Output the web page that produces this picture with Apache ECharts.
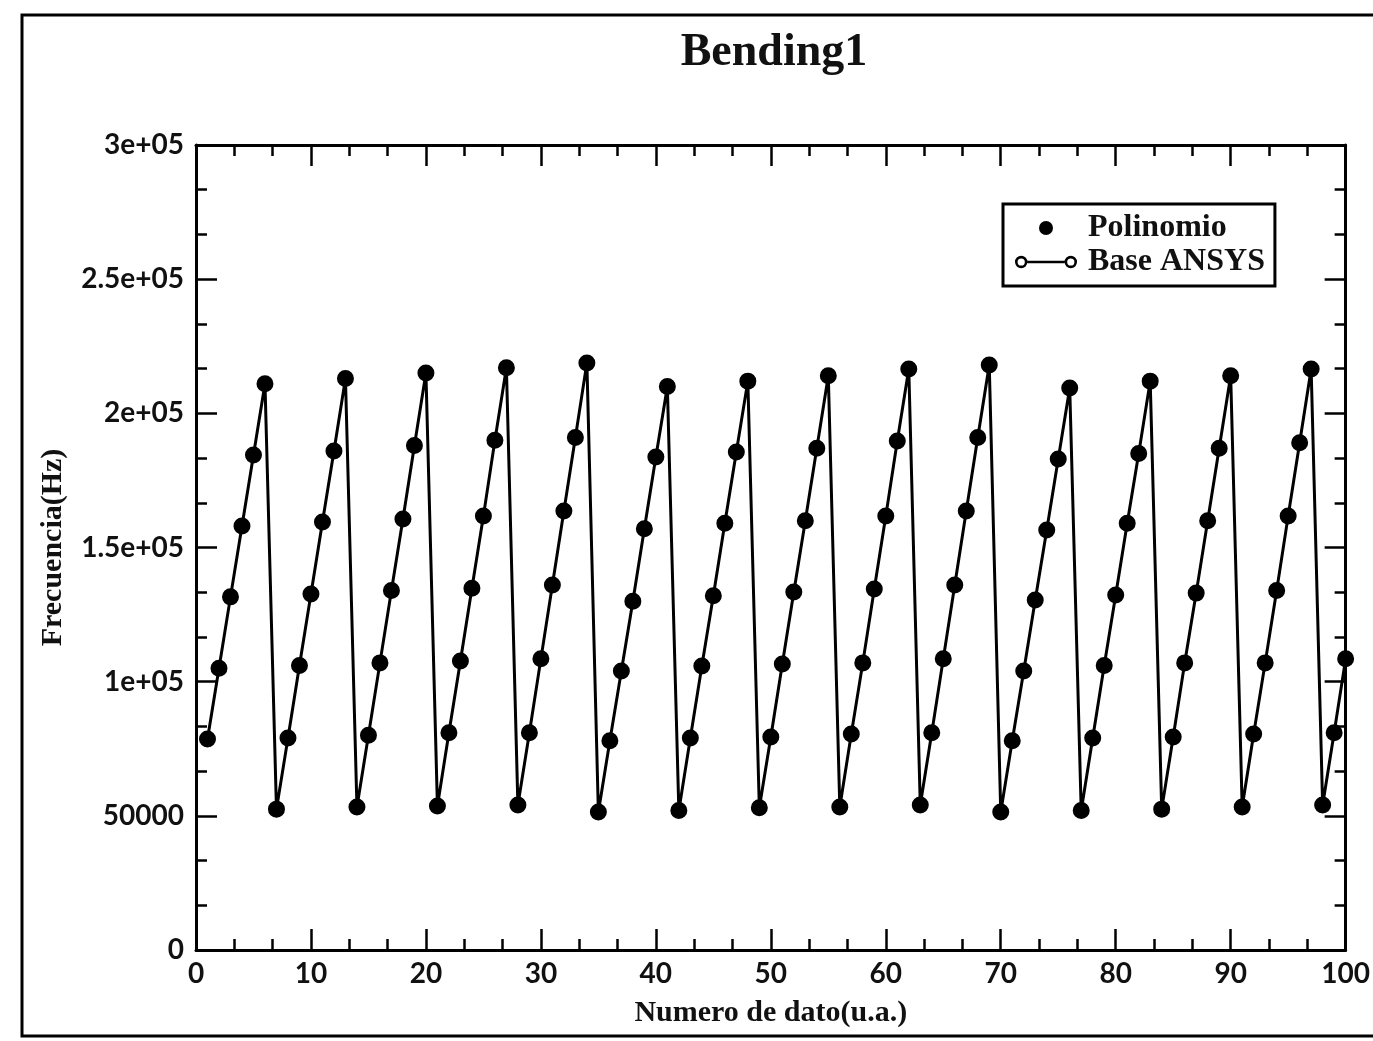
<!DOCTYPE html>
<html>
<head>
<meta charset="utf-8">
<title>Bending1</title>
<script src="https://cdn.jsdelivr.net/npm/echarts@6/dist/echarts.min.js"></script>
<style>
  html, body { margin: 0; padding: 0; background: #fff; }
  #chart { width: 1373px; height: 1041px; }
</style>
</head>
<body>
<div id="chart"></div>
<script>
// Bending mode 1 frequency for each data point (Hz), points numbered 1..100
const frecuencia = [
  78600, 105000, 131600, 158000, 184500, 211000,
  52500, 79000, 106000, 132700, 159500, 186000, 213000,
  53300, 80000, 107000, 134000, 160600, 188000, 215000,
  53700, 81000, 107700, 134800, 161700, 190000, 217000,
  54000, 81000, 108500, 136000, 163600, 191000, 218800,
  51400, 78000, 104000, 130000, 157000, 183700, 210000,
  52000, 79000, 105800, 132000, 159000, 185600, 212000,
  53000, 79400, 106600, 133400, 160000, 187000, 214000,
  53300, 80500, 107000, 134500, 161700, 189700, 216500,
  54000, 81000, 108500, 136000, 163600, 191000, 218000,
  51400, 78000, 104000, 130400, 156500, 183000, 209400,
  52000, 79000, 106000, 132300, 159000, 185000, 212000,
  52500, 79400, 107000, 133000, 160000, 187000, 214000,
  53300, 80500, 107000, 134000, 161700, 189000, 216500,
  54000, 81000, 108500
];
const polinomio = frecuencia.slice();
const baseAnsys = frecuencia.slice();

const xTickLabels = ['0', '10', '20', '30', '40', '50', '60', '70', '80', '90', '100'];
const yTickLabels = ['0', '50000', '1e+05', '1.5e+05', '2e+05', '2.5e+05', '3e+05'];

const toPairs = arr => arr.map((v, i) => [i + 1, v]);

const serif = '"Liberation Serif", "DejaVu Serif", serif';
const sans = 'Lato, "Open Sans", sans-serif';

// legend icon: short line with an open circle at each end
const lineIcon = 'path://M1,7A6,6 0 1,1 13,7A6,6 0 1,1 1,7Z M3.5,7A3.5,3.5 0 1,0 10.5,7A3.5,3.5 0 1,0 3.5,7Z' +
  'M49,7A6,6 0 1,1 61,7A6,6 0 1,1 49,7Z M51.5,7A3.5,3.5 0 1,0 58.5,7A3.5,3.5 0 1,0 51.5,7Z' +
  'M13,5.8L49,5.8L49,8.2L13,8.2Z';

const chart = echarts.init(document.getElementById('chart'), null, { renderer: 'canvas' });

// shared frame/tick styling; every axis keeps to its own side of the grid
const tickCommon = {
  axisLine: { show: true, onZero: false, lineStyle: { color: '#000', width: 3 } },
  axisTick: { show: true, inside: true, length: 21, lineStyle: { color: '#000', width: 2.5 } },
  minorTick: { show: true, splitNumber: 3, length: 11, lineStyle: { color: '#000', width: 2.5 } },
  splitLine: { show: false },
  minorSplitLine: { show: false }
};

chart.setOption({
  animation: false,
  backgroundColor: '#fff',
  title: {
    text: 'Bending1',
    left: 774,
    top: 30,
    padding: 0,
    textAlign: 'center',
    textStyle: { fontFamily: serif, fontSize: 46, fontWeight: 'bold', color: '#111' }
  },
  graphic: [{
    type: 'rect',
    silent: true,
    shape: { x: 22, y: 15, width: 1400, height: 1021 },
    style: { fill: 'none', stroke: '#000', lineWidth: 3 }
  }],
  legend: {
    orient: 'vertical',
    left: 1003,
    top: 204,
    padding: [8, 10, 8, 12],
    itemGap: 2,
    itemWidth: 62,
    itemHeight: 14,
    borderColor: '#000',
    borderWidth: 3,
    textStyle: { fontFamily: serif, fontSize: 32, fontWeight: 'bold', color: '#111', padding: [0, 0, 0, 6] },
    data: [
      { name: 'Polinomio', icon: 'circle', itemStyle: { color: '#000', borderWidth: 0, opacity: 1 } },
      { name: 'Base ANSYS', icon: lineIcon, itemStyle: { color: '#000', borderWidth: 0, opacity: 1 } }
    ]
  },
  grid: { left: 196, right: 21, top: 145, bottom: 91, containLabel: false },
  xAxis: [
    Object.assign({
      type: 'value',
      min: 0,
      max: 100,
      interval: 10,
      position: 'bottom',
      name: 'Numero de dato(u.a.)',
      nameLocation: 'middle',
      nameGap: 48,
      nameTextStyle: { fontFamily: serif, fontSize: 30, fontWeight: 'bold', color: '#111' },
      axisLabel: {
        margin: 10,
        fontFamily: sans,
        fontSize: 28,
        fontWeight: 'bold',
        color: '#111',
        formatter: v => xTickLabels[Math.round(v / 10)]
      }
    }, tickCommon),
    Object.assign({
      type: 'value',
      min: 0,
      max: 100,
      interval: 10,
      position: 'top',
      axisLabel: { show: false }
    }, tickCommon)
  ],
  yAxis: [
    Object.assign({
      type: 'value',
      min: 0,
      max: 300000,
      interval: 50000,
      position: 'left',
      name: 'Frecuencia(Hz)',
      nameLocation: 'middle',
      nameGap: 128,
      nameTextStyle: { fontFamily: serif, fontSize: 30, fontWeight: 'bold', color: '#111' },
      axisLabel: {
        margin: 12,
        fontFamily: sans,
        fontSize: 28,
        fontWeight: 'bold',
        color: '#111',
        formatter: v => yTickLabels[Math.round(v / 50000)]
      }
    }, tickCommon),
    Object.assign({
      type: 'value',
      min: 0,
      max: 300000,
      interval: 50000,
      position: 'right',
      axisLabel: { show: false }
    }, tickCommon)
  ],
  series: [
    {
      name: 'Base ANSYS',
      type: 'line',
      xAxisIndex: 0,
      yAxisIndex: 0,
      data: toPairs(baseAnsys),
      symbol: 'circle',
      symbolSize: 15,
      showAllSymbol: true,
      lineStyle: { color: '#000', width: 3 },
      itemStyle: { color: '#000', borderColor: '#000', borderWidth: 2, opacity: 1 },
      z: 2
    },
    {
      name: 'Polinomio',
      type: 'scatter',
      xAxisIndex: 0,
      yAxisIndex: 0,
      data: toPairs(polinomio),
      symbol: 'circle',
      symbolSize: 12,
      itemStyle: { color: '#000', opacity: 1 },
      z: 3
    }
  ]
});
</script>
</body>
</html>
